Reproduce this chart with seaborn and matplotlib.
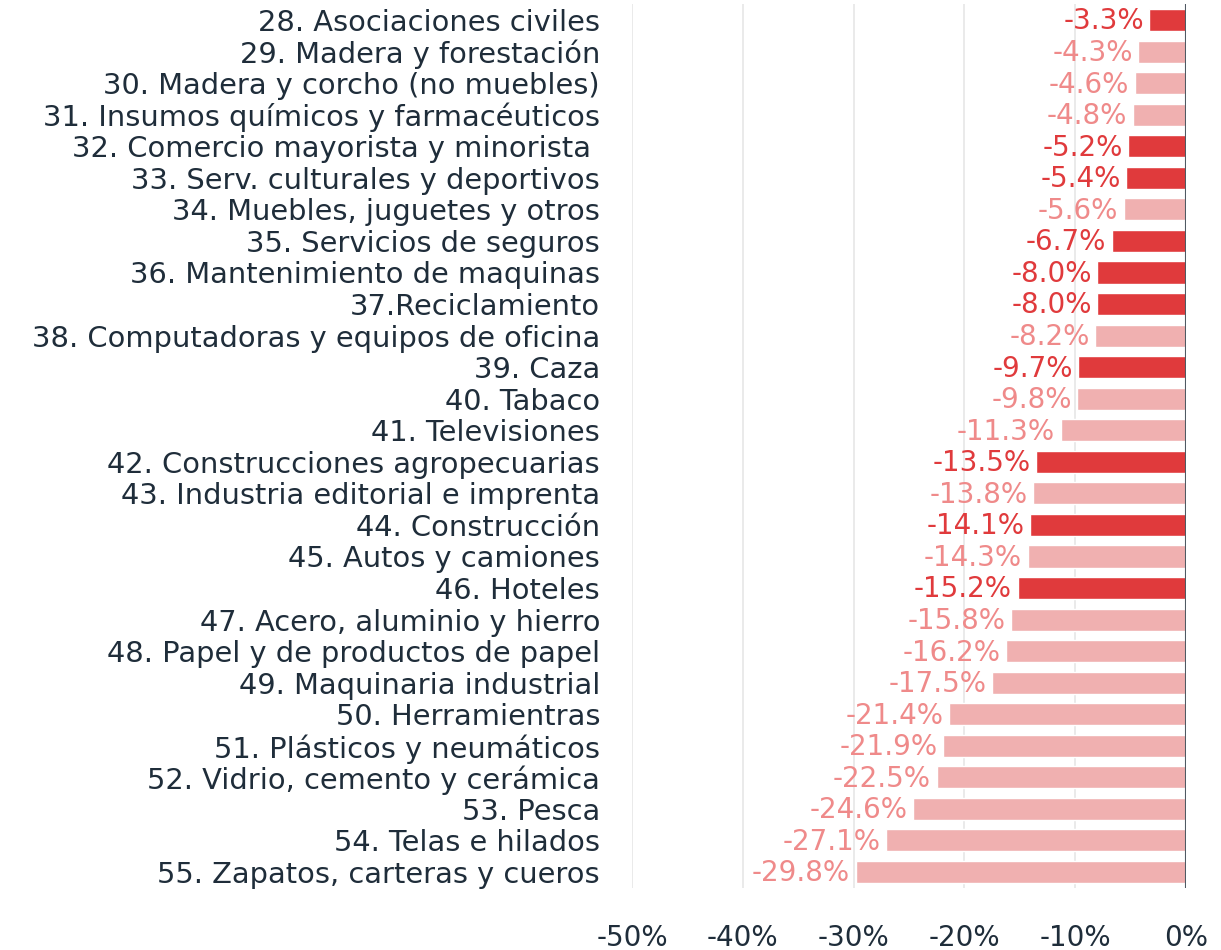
import matplotlib
matplotlib.use('Agg')
import matplotlib.pyplot as plt
import seaborn as sns
import pandas as pd

# Datos: variación por sector
sectores = [
    "28. Asociaciones civiles",
    "29. Madera y forestación",
    "30. Madera y corcho (no muebles)",
    "31. Insumos químicos y farmacéuticos",
    "32. Comercio mayorista y minorista ",
    "33. Serv. culturales y deportivos",
    "34. Muebles, juguetes y otros",
    "35. Servicios de seguros",
    "36. Mantenimiento de maquinas",
    "37.Reciclamiento",
    "38. Computadoras y equipos de oficina",
    "39. Caza",
    "40. Tabaco",
    "41. Televisiones",
    "42. Construcciones agropecuarias",
    "43. Industria editorial e imprenta",
    "44. Construcción",
    "45. Autos y camiones",
    "46. Hoteles",
    "47. Acero, aluminio y hierro",
    "48. Papel y de productos de papel",
    "49. Maquinaria industrial",
    "50. Herramientras",
    "51. Plásticos y neumáticos",
    "52. Vidrio, cemento y cerámica",
    "53. Pesca",
    "54. Telas e hilados",
    "55. Zapatos, carteras y cueros",
]
valores = [-3.3, -4.3, -4.6, -4.8, -5.2, -5.4, -5.6, -6.7, -8.0, -8.0,
           -8.2, -9.7, -9.8, -11.3, -13.5, -13.8, -14.1, -14.3, -15.2, -15.8,
           -16.2, -17.5, -21.4, -21.9, -22.5, -24.6, -27.1, -29.8]
destacado = [1, 0, 0, 0, 1, 1, 0, 1, 1, 1,
             0, 1, 0, 0, 1, 0, 1, 0, 1, 0,
             0, 0, 0, 0, 0, 0, 0, 0]
ticks_x = [-50, -40, -30, -20, -10, 0]

ROJO = '#e03a3c'
ROSA = '#f0b0b0'
ROSA_TXT = '#ef8a8a'
TEXTO = '#1f2d3a'

df = pd.DataFrame({'sector': sectores, 'valor': valores,
                   'grupo': ['si' if d else 'no' for d in destacado]})

sns.set_theme(style='white')
plt.rcParams['font.family'] = ['DejaVu Sans']

fig = plt.figure(figsize=(12.21, 9.5), dpi=100)
ax = fig.add_axes([0.5176, 0.0655, 0.4537, 0.930])

sns.barplot(data=df, x='valor', y='sector', hue='grupo',
            palette={'si': ROJO, 'no': ROSA}, dodge=False, legend=False,
            width=0.7, ax=ax, saturation=1)

for i, (v, d) in enumerate(zip(valores, destacado)):
    ax.annotate(f"{v:.1f}%", xy=(v, i), xytext=(-4, -1), textcoords='offset points',
                ha='right', va='center', fontsize=20,
                color=ROJO if d else ROSA_TXT)

ax.set_xlim(-50, 0)
ax.set_ylim(len(sectores) - 0.5, -0.5)
ax.set_xticks(ticks_x)
ax.set_xticklabels([f"{t}%" for t in ticks_x])
ax.grid(axis='x', color='#e6e6e6', linewidth=1.2)
ax.set_axisbelow(True)
ax.axvline(0, color='#505a63', linewidth=1.5)
for s in ax.spines.values():
    s.set_visible(False)
ax.set_xlabel('')
ax.set_ylabel('')
ax.tick_params(axis='y', length=0, pad=23, labelsize=20.8, labelcolor=TEXTO)
ax.tick_params(axis='x', length=0, pad=26, labelsize=20, labelcolor=TEXTO)

fig.savefig('out.png', dpi=100)
